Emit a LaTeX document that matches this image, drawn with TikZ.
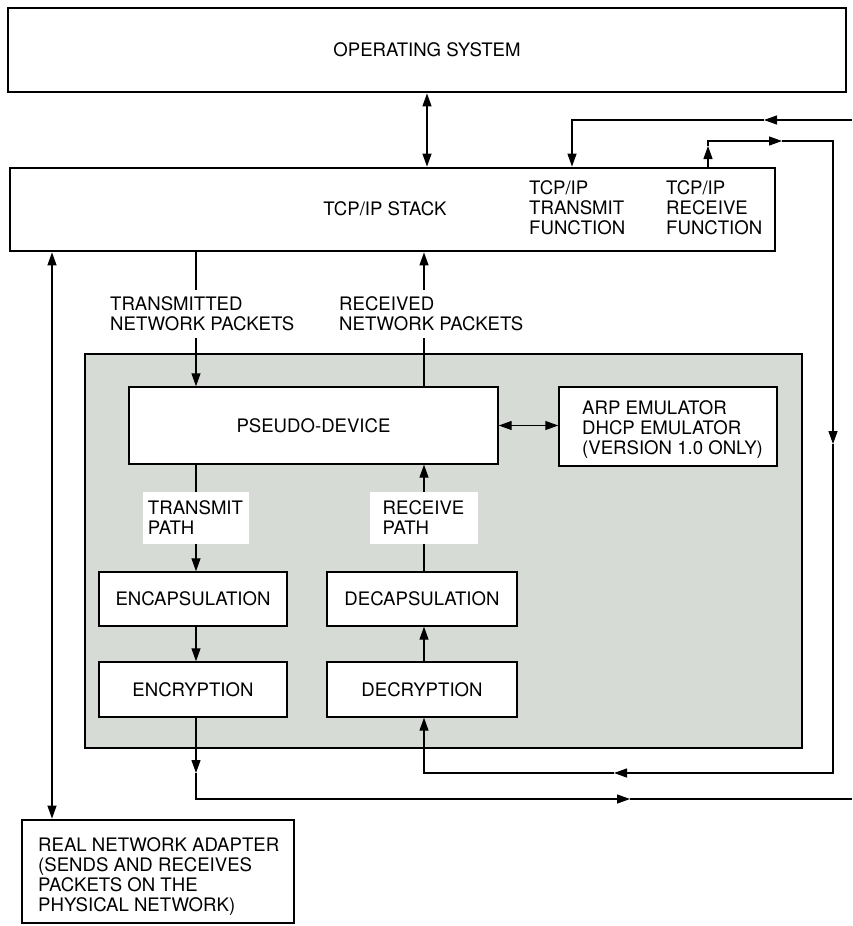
\documentclass[tikz,border=0pt]{standalone}
\usepackage{fontspec}
\setmainfont{TeX Gyre Heros}
\usetikzlibrary{arrows.meta}
\definecolor{panel}{RGB}{214,220,213}
\begin{document}
\begin{tikzpicture}[x=1pt,y=-1pt,
  font=\fontsize{18.6}{20}\selectfont,
  heavybox/.style={draw, line width=2.8pt, inner sep=0pt},
  lightbox/.style={draw, line width=1.4pt, fill=white, inner sep=0pt},
  txt/.style={inner sep=0pt, align=left},
  lbl/.style={fill=white, inner xsep=5pt, inner ysep=7pt, align=left},
  pathlbl/.style={fill=white, inner sep=0pt, align=left, minimum height=52pt},
  wire/.style={line width=1.2pt},
  tip/.style={-{Triangle[length=13pt,width=9pt]}},
  tips/.style={{Triangle[length=13pt,width=9pt]}-{Triangle[length=13pt,width=9pt]}}
]
\useasboundingbox (0,0) rectangle (852,926);

% main blocks
\node[heavybox, minimum width=838pt, minimum height=84pt] (os) at (427,50) {OPERATING SYSTEM};
\node[heavybox, minimum width=765pt, minimum height=83pt] (tcp) at (392.5,209.5) {};
\node[txt] (stack) at (385,209) {TCP/IP STACK};
\node[txt, anchor=west] (txfn) at (529,207.5) {TCP/IP\\TRANSMIT\\FUNCTION};
\node[txt, anchor=west] (rxfn) at (666,207.5) {TCP/IP\\RECEIVE\\FUNCTION};

% shaded driver panel
\node[heavybox, fill=panel, minimum width=717pt, minimum height=394pt] (panel) at (443.5,551) {};
\node[lightbox, minimum width=369pt, minimum height=77pt] (pseudo) at (313.5,425.5) {PSEUDO-DEVICE};
\node[lightbox, minimum width=218pt, minimum height=79pt] (arp) at (668,426.5) {};
\node[txt, anchor=west] (arptxt) at (582,430) {ARP EMULATOR\\DHCP EMULATOR\\(VERSION 1.0 ONLY)};
\node[lightbox, minimum width=188pt, minimum height=54pt] (encap) at (193,599) {ENCAPSULATION};
\node[lightbox, minimum width=188pt, minimum height=55pt] (encryp) at (193,689.5) {ENCRYPTION};
\node[lightbox, minimum width=190pt, minimum height=54pt] (decap) at (422,599) {DECAPSULATION};
\node[lightbox, minimum width=190pt, minimum height=55pt] (decryp) at (422,689.5) {DECRYPTION};

% physical adapter
\node[heavybox, minimum width=272pt, minimum height=103pt] (adapter) at (158,871.5) {};
\node[txt, anchor=west] (adtxt) at (38,876.9) {REAL NETWORK ADAPTER\\(SENDS AND RECEIVES\\PACKETS ON THE\\PHYSICAL NETWORK)};

% columns and rows of the wiring
\coordinate (cTx) at (196,0);
\coordinate (cRx) at (424,0);
\coordinate (cL) at (52,0);
\coordinate (cIn) at (572,0);
\coordinate (cOut) at (708,0);
\coordinate (cR) at (833,0);
\coordinate (rA) at (0,120);
\coordinate (rB) at (0,141);
\coordinate (rC) at (0,773);
\coordinate (rD) at (0,799);
\coordinate (eA) at (852,120);
\coordinate (eD) at (852,799);
\coordinate (mA) at (764,120);
\coordinate (mUp) at (708,146);
\coordinate (mB) at (782,141);
\coordinate (mR) at (833,444);
\coordinate (mC) at (614,773);
\coordinate (mD) at (630,799);

% operating system <-> stack
\draw[wire, tips] (os.south) -- (os.south |- tcp.north);

% packets between stack and pseudo-device
\draw[wire, tip] (tcp.south -| cTx) -- (pseudo.north -| cTx);
\draw[wire, tip] (pseudo.north -| cRx) -- (tcp.south -| cRx);
\node[lbl, anchor=west] (txlbl) at (105,314) {TRANSMITTED\\NETWORK PACKETS};
\node[lbl, anchor=west] (rxlbl) at (334,314) {RECEIVED\\NETWORK PACKETS};

% inside the panel
\draw[wire, tips] (pseudo.east) -- (pseudo.east -| arp.west);
\draw[wire, tip] (pseudo.south -| cTx) -- (encap.north -| cTx);
\draw[wire, tip] (encap.south -| cTx) -- (encryp.north -| cTx);
\draw[wire, tip] (decap.north -| cRx) -- (pseudo.south -| cRx);
\draw[wire, tip] (decryp.north -| cRx) -- (decap.south -| cRx);
\node[pathlbl, minimum width=106pt] (txpath) at (195.5,518) {TRANSMIT\\PATH};
\node[pathlbl, minimum width=108pt] (rxpath) at (423.5,518) {RECEIVE\\PATH};

% stack <-> real adapter
\draw[wire, tips] (tcp.south -| cL) -- (adapter.north -| cL);

% feed into the transmit function
\draw[wire, tip] (eA) -- (mA);
\draw[wire, tip] (mA) -- (cIn |- rA) -- (cIn |- tcp.north);

% loop from the receive function down to decryption
\draw[wire, tip] (tcp.north -| cOut) -- (mUp);
\draw[wire, tip] (mUp) -- (cOut |- rB) -- (mB);
\draw[wire, tip] (mB) -- (cR |- rB) -- (mR);
\draw[wire, tip] (mR) -- (cR |- rC) -- (mC);
\draw[wire, tip] (mC) -- (cRx |- rC) -- (decryp.south -| cRx);

% encrypted packets out to the right
\draw[wire, tip] (encryp.south -| cTx) -- (cTx |- rC);
\draw[wire, tip] (cTx |- rC) -- (cTx |- rD) -- (mD);
\draw[wire] (mD) -- (eD);
\end{tikzpicture}
\end{document}
